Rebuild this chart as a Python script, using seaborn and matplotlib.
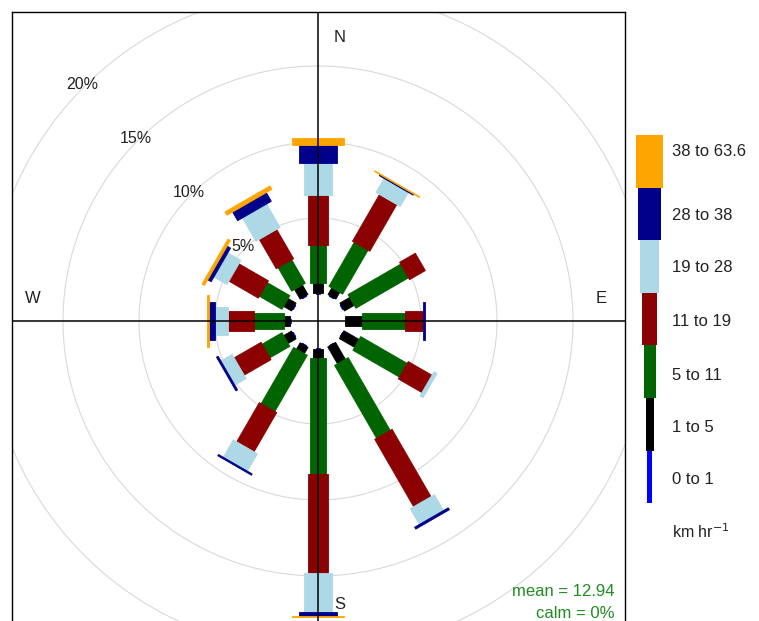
import numpy as np
import matplotlib
matplotlib.use("Agg")
import matplotlib.pyplot as plt
import seaborn as sns
from matplotlib.patches import Polygon, Rectangle

# Wind directions (degrees clockwise from north)
directions = [0, 30, 60, 90, 120, 150, 180, 210, 240, 270, 300, 330]

# Speed classes (km/h)
speed_labels = ["0 to 1", "1 to 5", "5 to 11", "11 to 19",
                "19 to 28", "28 to 38", "38 to 63.6"]

# Frequency (%) of each speed class per direction
freq_0_1 = [0.06, 0.06, 0.06, 0.02, 0.02, 0.02, 0.05, 0.05, 0.06, 0.06, 0.06, 0.06]
freq_1_5 = [0.66, 0.50, 0.74, 1.08, 1.15, 1.28, 0.63, 0.48, 0.60, 0.40, 0.60, 0.73]
freq_5_11 = [2.50, 3.34, 4.00, 2.85, 3.53, 5.53, 7.61, 4.27, 1.51, 1.97, 1.71, 1.78]
freq_11_19 = [3.29, 3.55, 1.20, 1.16, 1.80, 5.12, 6.51, 2.98, 2.04, 1.70, 2.24, 2.23]
freq_19_28 = [2.11, 1.07, 0.00, 0.04, 0.24, 1.20, 2.55, 1.32, 0.86, 0.87, 0.99, 1.78]
freq_28_38 = [1.18, 0.08, 0.00, 0.13, 0.00, 0.15, 0.25, 0.10, 0.13, 0.37, 0.26, 0.66]
freq_38_64 = [0.46, 0.05, 0.00, 0.00, 0.00, 0.00, 0.08, 0.00, 0.00, 0.18, 0.19, 0.26]

speed_colours = ["#0000FF", "#000000", "#006400", "#8B0000",
                 "#ADD8E6", "#00008B", "#FFA500"]

grid_levels = [5, 10, 15, 20]
compass = ["N", "E", "S", "W"]
mean_text = "mean = 12.94"
calm_text = "calm = 0%"
unit_text = r"km hr$^{-1}$"

# ---- styling / layout -------------------------------------------------
sns.set_theme(style="white")
plt.rcParams["font.family"] = ["Liberation Sans", "DejaVu Sans"]
palette = sns.color_palette(speed_colours)

W_PX, H_PX = 759, 621
fig = plt.figure(figsize=(W_PX / 100, H_PX / 100), dpi=100)
fig.patch.set_facecolor("white")

px_per_unit = 15.2          # pixels per 1 % of frequency
cx, cy = 318, 321           # rose centre in pixels
box_l, box_r, box_t, box_b = 12, 625, 12, 630
hole = 27 / px_per_unit     # empty centre radius (in % units)

ax = fig.add_axes([box_l / W_PX, 1 - box_b / H_PX,
                   (box_r - box_l) / W_PX, (box_b - box_t) / H_PX])
ax.set_xlim((box_l - cx) / px_per_unit, (box_r - cx) / px_per_unit)
ax.set_ylim((cy - box_b) / px_per_unit, (cy - box_t) / px_per_unit)
ax.set_xticks([])
ax.set_yticks([])
for s in ax.spines.values():
    s.set_visible(True)
    s.set_color("black")
    s.set_linewidth(1.0)

# grid circles
t = np.linspace(0, 2 * np.pi, 400)
for lev in grid_levels:
    r = hole + lev
    ax.plot(r * np.cos(t), r * np.sin(t), color="#d9d9d9", lw=0.8, zorder=1)

# paddles
freq = np.array([freq_0_1, freq_1_5, freq_5_11, freq_11_19,
                 freq_19_28, freq_28_38, freq_38_64])
cum = np.cumsum(freq, axis=0)
start = np.vstack([np.zeros(len(directions)), cum[:-1]])
half_widths = [0.16, 0.30, 0.52, 0.66, 0.92, 1.28, 1.71]

for i in range(freq.shape[0]):
    col = palette[i]
    for j, d in enumerate(directions):
        if freq[i, j] <= 0:
            continue
        th = np.deg2rad(d)
        u = np.array([np.sin(th), np.cos(th)])
        v = np.array([np.cos(th), -np.sin(th)])
        r1, r2 = hole + start[i, j], hole + cum[i, j]
        hw = half_widths[i]
        pts = [r1 * u - hw * v, r1 * u + hw * v, r2 * u + hw * v, r2 * u - hw * v]
        ax.add_patch(Polygon(pts, closed=True, facecolor=col, edgecolor=col,
                             lw=0.6, zorder=2))

# compass cross
ax.axhline(0, color="black", lw=1.1, zorder=3)
ax.axvline(0, color="black", lw=1.1, zorder=3)

lab_r, lab_off = 18.65, 1.45
ax.text(lab_off, lab_r, compass[0], ha="center", va="center", fontsize=12, color="#222222")
ax.text(lab_r, lab_off, compass[1], ha="center", va="center", fontsize=12, color="#222222")
ax.text(lab_off, -lab_r, compass[2], ha="center", va="center", fontsize=12, color="#222222")
ax.text(-lab_r - 0.1, lab_off, compass[3], ha="center", va="center", fontsize=12, color="#222222")

# percentage labels along the NW diagonal
diag = np.deg2rad(315)
for lev in grid_levels:
    r = hole + lev + 0.2
    ax.text(r * np.sin(diag), r * np.cos(diag), f"{lev}%", ha="center",
            va="center", fontsize=11.5, color="#222222", zorder=4)

# summary statistics
ax.text((615 - cx) / px_per_unit, (cy - 591) / px_per_unit, mean_text,
        ha="right", va="center", fontsize=12, color="forestgreen")
ax.text((615 - cx) / px_per_unit, (cy - 614) / px_per_unit, calm_text,
        ha="right", va="center", fontsize=12, color="forestgreen")

# ---- speed key --------------------------------------------------------
kax = fig.add_axes([0, 0, 1, 1])
kax.set_xlim(0, W_PX)
kax.set_ylim(H_PX, 0)
kax.axis("off")
kax.patch.set_alpha(0)

key_top, key_h, key_cx = 135, 52.6, 649.5
key_widths = [5.3, 8, 12, 15, 19.3, 22.7, 26.7]
key_text_y = [480, 427, 375, 322, 268, 216, 151]
n = len(speed_labels)
for k in range(n):
    idx = n - 1 - k                      # highest class on top
    top = key_top + k * key_h
    w = key_widths[idx]
    kax.add_patch(Rectangle((key_cx - w / 2, top), w, key_h,
                            facecolor=palette[idx], edgecolor="none"))
    kax.text(672, key_text_y[idx], speed_labels[idx], ha="left", va="center",
             fontsize=12, color="#222222")
kax.text(672, 532, unit_text, ha="left", va="center", fontsize=11.5, color="#222222")

fig.savefig("out.png", dpi=100, facecolor="white")
